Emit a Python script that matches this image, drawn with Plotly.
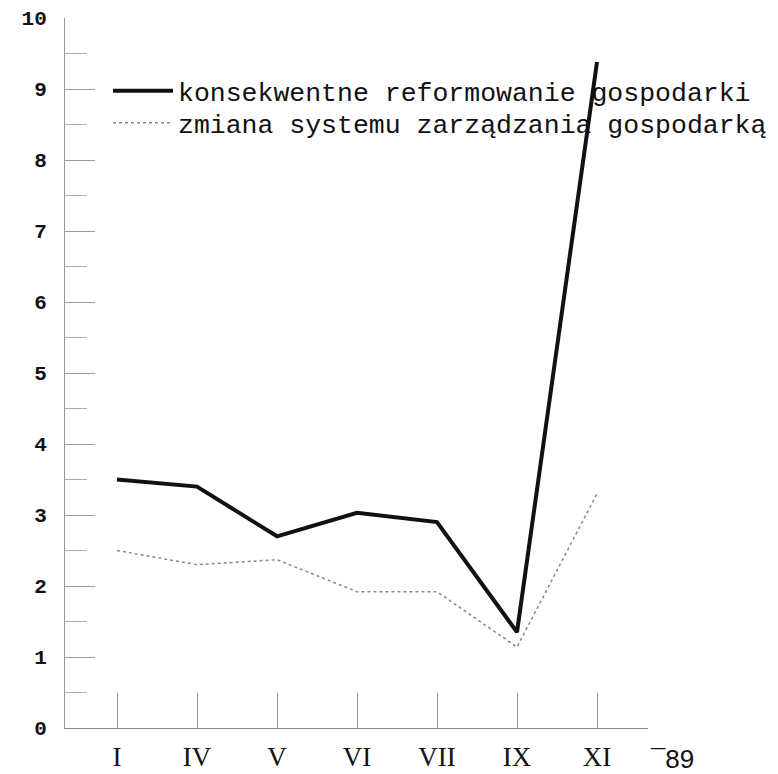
import plotly.graph_objects as go

# ---- data ----
months = ["I", "IV", "V", "VI", "VII", "IX", "XI"]
reform = [3.5, 3.4, 2.7, 3.03, 2.9, 1.35, 9.38]      # konsekwentne reformowanie gospodarki
system = [2.5, 2.3, 2.37, 1.92, 1.92, 1.14, 3.3]     # zmiana systemu zarządzania gospodarką
y_ticks = list(range(0, 11))
year_label = "¯89"

x_idx = list(range(len(months)))

fig = go.Figure()
fig.add_trace(go.Scatter(
    x=x_idx, y=reform, mode="lines",
    name="konsekwentne reformowanie gospodarki",
    line=dict(color="#111111", width=4),
    legend="legend",
))
fig.add_trace(go.Scatter(
    x=x_idx, y=system, mode="lines",
    name="zmiana systemu zarządzania gospodarką",
    line=dict(color="#888888", width=1.5, dash="dot"),
    legend="legend2",
))

legend_style = dict(
    xanchor="left", yanchor="top",
    bgcolor="rgba(0,0,0,0)",
    font=dict(family="Liberation Mono", size=26.5, color="#111111"),
    itemwidth=60,
)

fig.update_layout(
    width=770, height=766,
    margin=dict(l=57, r=130, t=10, b=46, autoexpand=False),
    paper_bgcolor="white", plot_bgcolor="white",
    showlegend=True,
    legend=dict(x=(108 - 65) / 583, y=(728 - 67) / 710, **legend_style),
    legend2=dict(x=(108 - 65) / 583, y=(728 - 99) / 710, **legend_style),
    xaxis=dict(
        range=[-0.65, 6.6375],
        tickmode="array", tickvals=x_idx, ticktext=months,
        ticks="inside", ticklen=35, tickcolor="#999999", tickwidth=1,
        showline=True, linecolor="#888888", linewidth=1.2,
        showgrid=False, zeroline=False,
        tickfont=dict(family="Liberation Serif", size=27, color="#111111"),
        ticklabelstandoff=4,
    ),
    yaxis=dict(
        range=[0, 10],
        tickmode="array", tickvals=y_ticks,
        ticks="inside", ticklen=30, tickcolor="#999999", tickwidth=1,
        minor=dict(dtick=0.5, ticks="inside", ticklen=22, tickcolor="#aaaaaa", tickwidth=1),
        showline=True, linecolor="#999999", linewidth=1,
        showgrid=False, zeroline=False,
        tickfont=dict(family="Liberation Mono", size=21, color="#111111", weight="bold"),
        ticklabelstandoff=13,
    ),
)

fig.add_annotation(text=year_label, xref="paper", yref="paper",
                   x=(672 - 65) / 583, y=(728 - 759) / 710,
                   xanchor="center", yanchor="middle",
                   showarrow=False, font=dict(family="Liberation Sans", size=26, color="#111111"))

fig.write_html("out.html")
